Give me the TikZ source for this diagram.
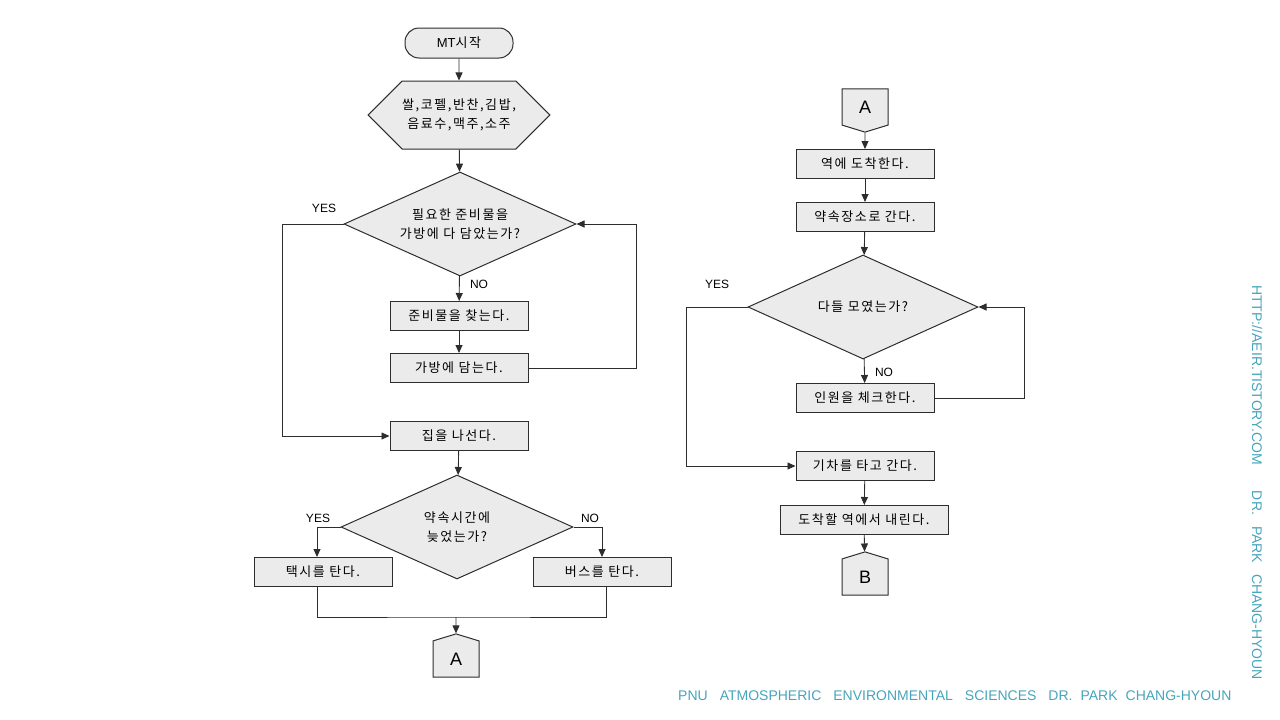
\documentclass[tikz,border=0pt]{standalone}
\usepackage{fontspec}
\setmainfont{Liberation Sans}
\newfontfamily\kr[LetterSpace=12]{Noto Sans CJK KR}
\usetikzlibrary{shapes.geometric,shapes.symbols,arrows.meta}
\definecolor{shapefill}{RGB}{235,235,235}
\definecolor{edge}{RGB}{45,45,45}
\definecolor{wmcol}{RGB}{70,165,188}

\begin{document}
\begin{tikzpicture}[x=1pt, y=-1pt,
  every node/.style={font=\kr\fontsize{13}{19}\selectfont, align=center},
  box/.style={draw=edge, fill=shapefill, line width=1pt, minimum width=138pt, minimum height=29pt, inner sep=0pt},
  decision/.style={diamond, aspect=2.2, draw=edge, fill=shapefill, line width=1pt, minimum width=232pt, minimum height=104pt, inner sep=0pt},
  term/.style={draw=edge, fill=shapefill, line width=1pt, rounded corners=14pt, minimum width=108pt, minimum height=30pt, inner sep=0pt},
  hexa/.style={signal, signal to=west and east, signal pointer angle=90, draw=edge, fill=shapefill, line width=1pt, minimum width=178pt, minimum height=68pt, inner sep=0pt},
  offup/.style={signal, signal to=north, signal from=nowhere, signal pointer angle=146, draw=edge, fill=shapefill, line width=1pt, minimum width=46pt, minimum height=38pt, inner sep=0pt, font=\fontsize{18}{18}\selectfont},
  offdown/.style={offup, signal to=south},
  lbl/.style={font=\fontsize{12}{12}\selectfont, inner sep=0pt},
  wm/.style={font=\fontsize{14}{14}\selectfont, text=wmcol, inner sep=0pt},
  flow/.style={draw=edge, line width=0.85pt, -{Triangle[length=8pt,width=7pt]}},
  link/.style={draw=edge, line width=0.85pt}]
  \useasboundingbox (0,0) rectangle (1280,720);

  % left column: packing and leaving home
  \node[term] (start) at (459,43) {{\rmfamily MT}시작};
  \node[hexa] (prep) at (459,115) {쌀,코펠,반찬,김밥,\\음료수,맥주,소주};
  \node[decision] (chk) at (460,224) {필요한 준비물을\\가방에 다 담았는가?};
  \node[box] (find) at (459,316) {준비물을 찾는다.};
  \node[box] (pack) at (459,368) {가방에 담는다.};
  \node[box] (leave) at (459,436) {집을 나선다.};
  \node[decision] (late) at (457,527) {약속시간에\\늦었는가?};
  \node[box] (taxi) at (323,572) {택시를 탄다.};
  \node[box] (bus) at (602,572) {버스를 탄다.};
  \node[offup] (outA) at (456,659) {A};
  \coordinate (joinA) at (456,617);

  \node[lbl] (yes1) at (324,208) {YES};
  \node[lbl] (no1) at (479,284) {NO};
  \node[lbl] (yes2) at (318,518) {YES};
  \node[lbl] (no2) at (590,518) {NO};

  \draw[flow] (start) -- (prep);
  \draw[flow] (prep) -- (chk);
  \draw[flow] (chk) -- (find);
  \draw[flow] (find) -- (pack);
  \draw[flow] (pack.east) -- ++(108,0) |- (chk.east);
  \draw[flow] (chk.west) -- ++(-61,0) |- (leave.west);
  \draw[flow] (leave) -- (late);
  \draw[flow] (late.west) -| ([xshift=-6pt]taxi.north);
  \draw[flow] (late.east) -| (bus.north);
  \draw[link] ([xshift=-6pt]taxi.south) |- (joinA) -| ([xshift=4pt]bus.south);
  \draw[flow] (joinA) -- (outA);

  % right column: the trip
  \node[offdown] (inA) at (865,107) {A};
  \node[box] (arrive) at (865,164) {역에 도착한다.};
  \node[box] (meet) at (865,217) {약속장소로 간다.};
  \node[decision, minimum width=230pt] (all) at (863,307) {다들 모였는가?};
  \node[box] (count) at (865,398) {인원을 체크한다.};
  \node[box] (train) at (865,466) {기차를 타고 간다.};
  \node[box, minimum width=168pt] (getoff) at (864,520) {도착할 역에서 내린다.};
  \node[offup] (outB) at (865,577) {B};

  \node[lbl] (yes3) at (717,284) {YES};
  \node[lbl] (no3) at (884,372) {NO};

  \draw[flow] (inA) -- (arrive);
  \draw[flow] (arrive) -- (meet);
  \draw[flow] (meet) -- (all);
  \draw[flow] (all) -- (count);
  \draw[flow] (count.east) -- ++(90,0) |- (all.east);
  \draw[flow] (all.west) -- ++(-61,0) |- (train.west);
  \draw[flow] (train) -- (getoff);
  \draw[flow] (getoff) -- (outB);

  % watermarks
  \node[wm, rotate=-90, anchor=west] (site) at (1257,285) {HTTP://AEIR.TISTORY.COM\hspace{26pt}DR.\hspace{11pt}PARK\hspace{11pt}CHANG-HYOUN};
  \node[wm, anchor=west] (dept) at (678,696) {PNU\hspace{12pt}ATMOSPHERIC\hspace{12pt}ENVIRONMENTAL\hspace{12pt}SCIENCES\hspace{12pt}DR.\hspace{8pt}PARK\hspace{8pt}CHANG-HYOUN};
\end{tikzpicture}
\end{document}
